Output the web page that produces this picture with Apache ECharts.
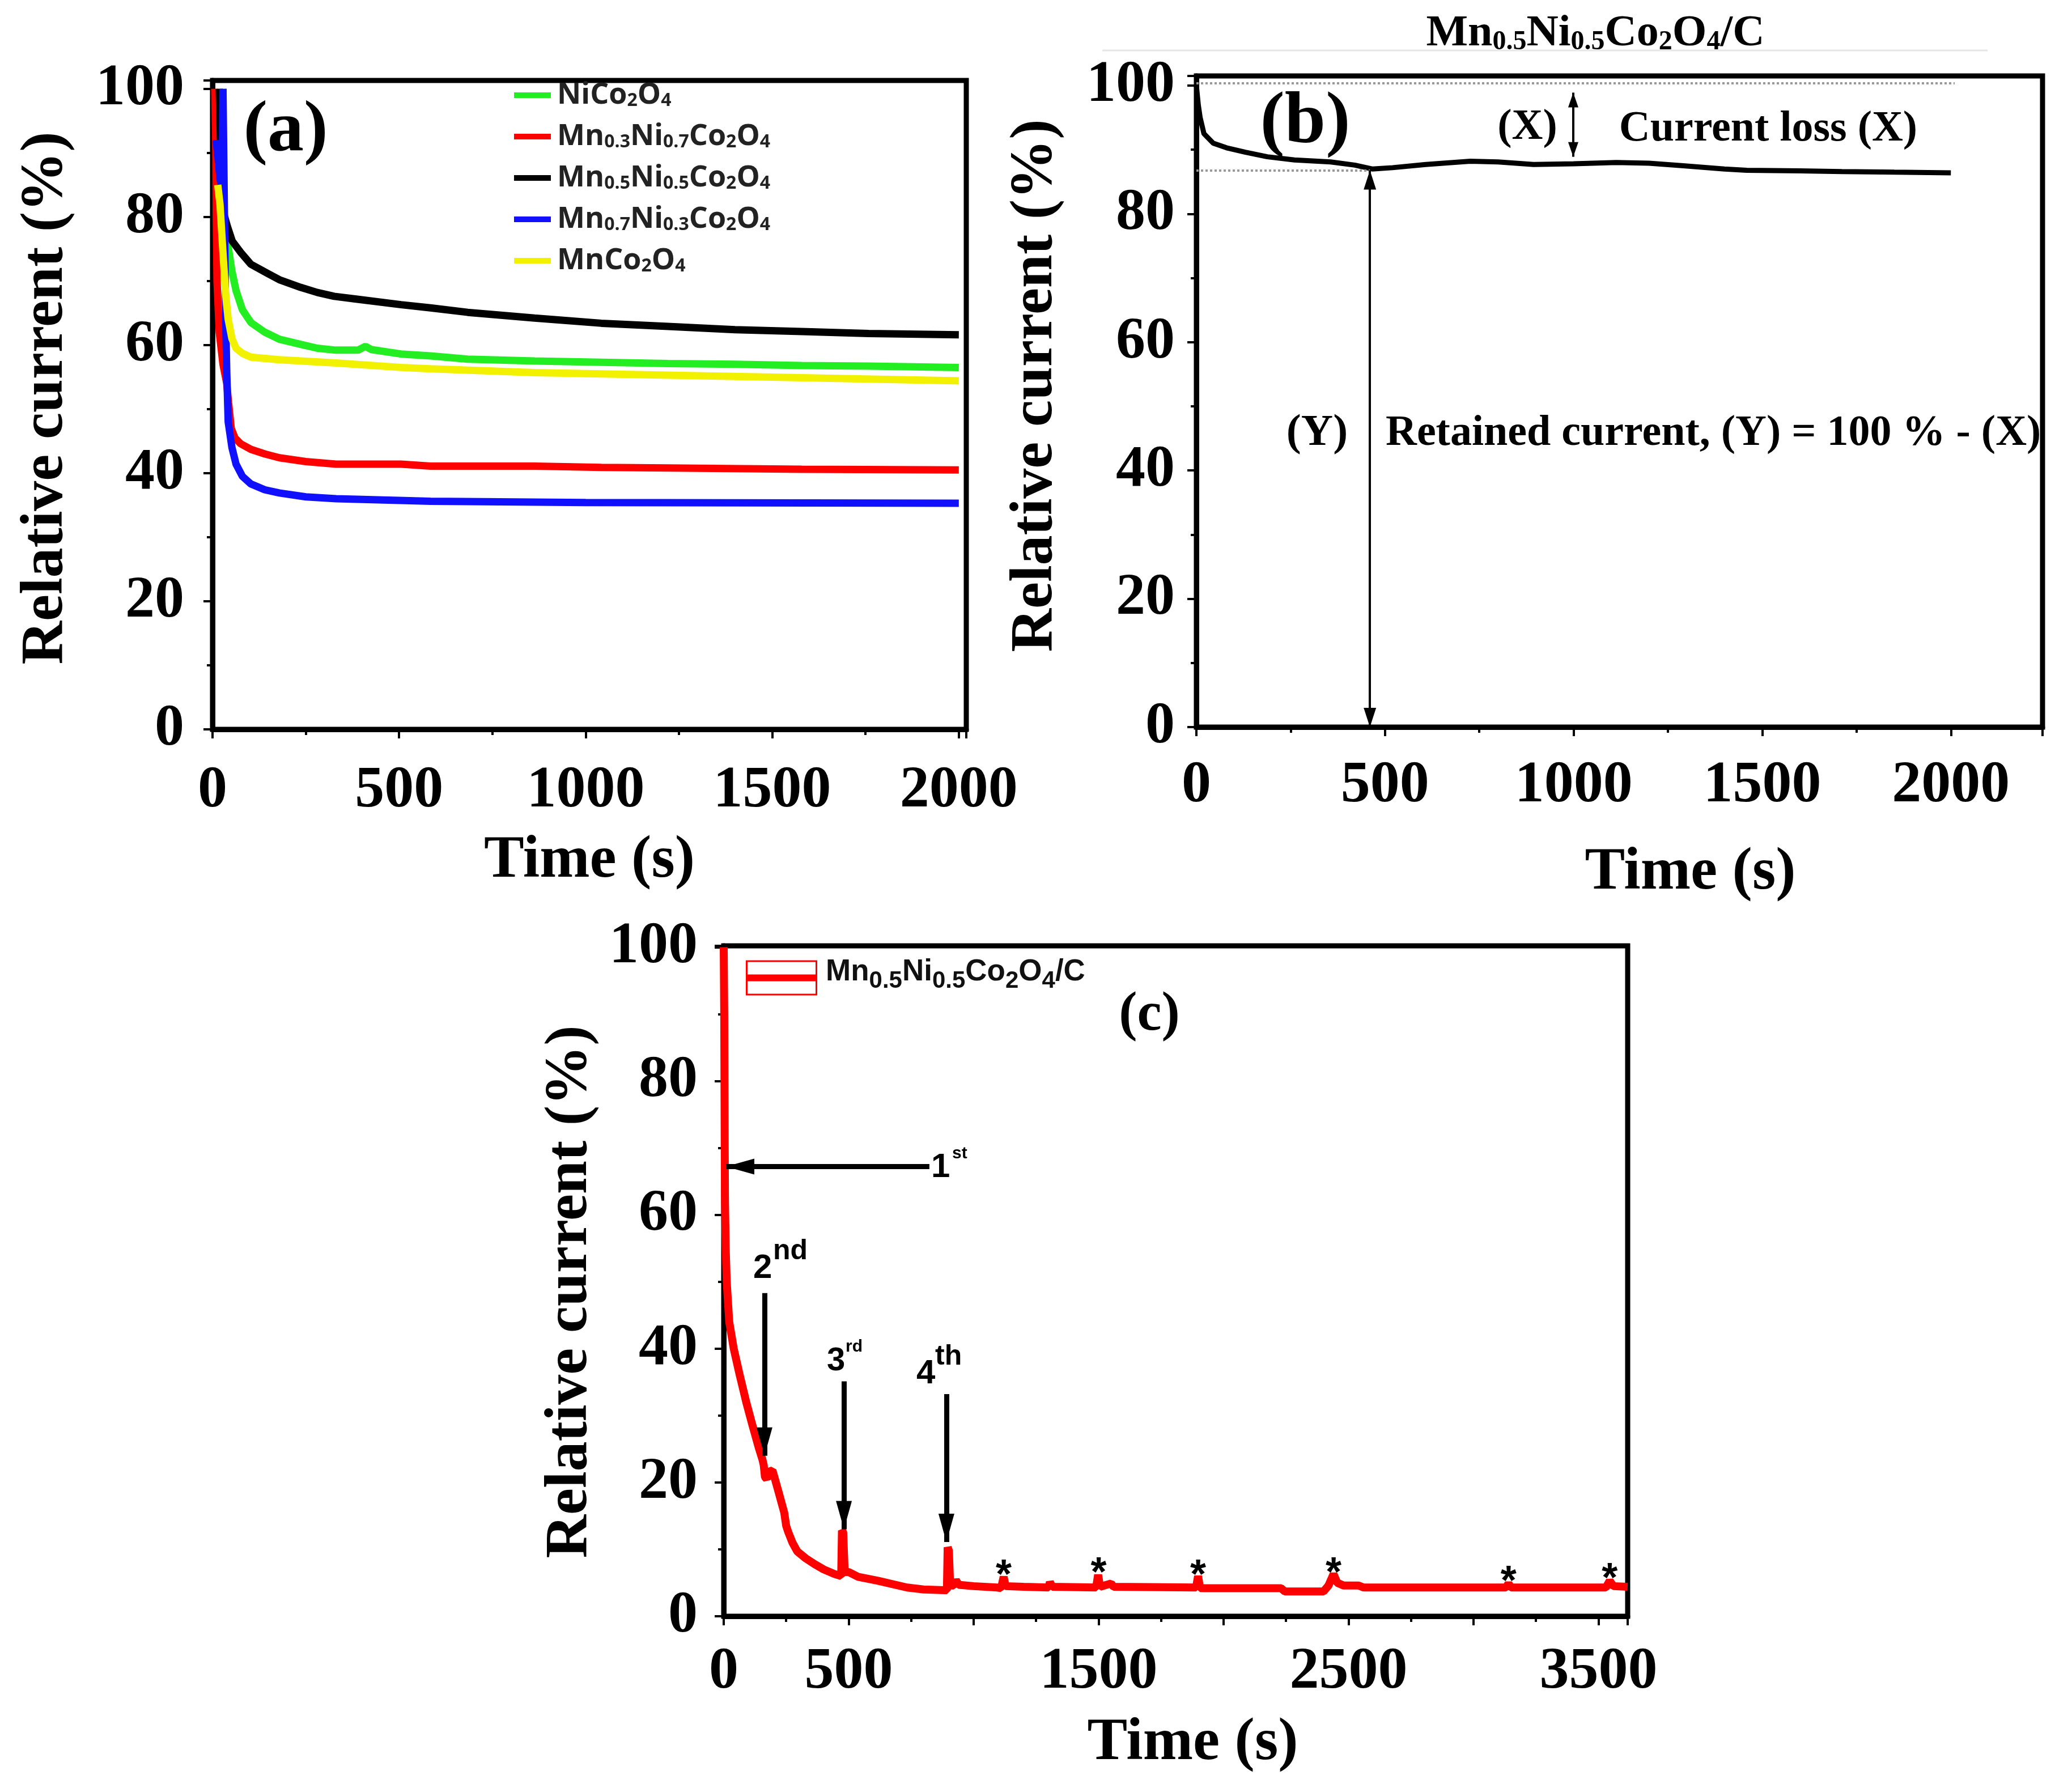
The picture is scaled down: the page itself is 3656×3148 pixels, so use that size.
<!DOCTYPE html>
<html>
<head>
<meta charset="utf-8">
<script src="https://cdn.jsdelivr.net/npm/echarts@6/dist/echarts.min.js"></script>
<style>
html, body { margin:0; padding:0; background:#fff; }
#main { width:3656px; height:3148px; }
</style>
</head>
<body>
<div id="main"></div>
<script>
// (a) relative current vs time, five catalysts  [t (s), %]
var niCo = [[16,85],[22,84],[27,82],[35,78.5],[42,75.3],[52,71.5],[63,68.5],[80,65.5],[103,63.5],[140,62],[179,60.9],[236,60.1],[281,59.5],[330,59.2],[390,59.2],[410,59.8],[425,59.3],[505,58.6],[584,58.3],[684,57.8],[863,57.5],[1042,57.3],[1221,57.1],[1400,57],[1579,56.8],[1758,56.7],[2000,56.5]];
var mn3 = [[6,100],[8,100],[9,90],[10,80],[12,70],[18,62],[28,57],[38,54],[43,51],[50,47],[60,45.5],[75,44.6],[103,43.7],[140,43],[179,42.4],[250,41.8],[331,41.4],[505,41.4],[584,41.1],[863,41.1],[1042,40.9],[1221,40.8],[1579,40.6],[2000,40.5]];
var mn5 = [[18,100],[21,100],[22,90],[25,84],[30,80.5],[40,78.5],[53,76.2],[75,74.5],[103,72.6],[147,71.2],[179,70.2],[236,69],[281,68.2],[326,67.6],[382,67.2],[505,66.3],[584,65.8],[684,65.1],[863,64.2],[1042,63.4],[1221,62.9],[1400,62.4],[1579,62.1],[1758,61.8],[2000,61.6]];
var mn7 = [[10,92],[20,86],[26,84],[28,100],[30,100],[32,80],[35,65],[38,56],[42,48],[52,44],[63,41.4],[80,39.5],[103,38.3],[140,37.4],[179,36.9],[250,36.3],[331,36],[584,35.6],[1000,35.4],[2000,35.3]];
var mnCo = [[14,85],[20,82],[27,75.3],[35,68],[42,64],[52,61],[63,59.5],[80,58.7],[103,58.1],[179,57.7],[331,57.2],[505,56.5],[584,56.3],[863,55.7],[1221,55.3],[1579,54.9],[2000,54.4]];
var namesA = ['NiCo2O4', 'Mn0.3Ni0.7Co2O4', 'Mn0.5Ni0.5Co2O4', 'Mn0.7Ni0.3Co2O4', 'MnCo2O4'];
var colorsA = ['#22ee22', '#ff0000', '#000000', '#1010ff', '#f2f200'];

// (b) Mn0.5Ni0.5Co2O4/C
var bCurve = [[0,100],[5,97],[10,95],[20,92.5],[45,91],[80,90.3],[130,89.6],[188,88.9],[260,88.4],[356,88.1],[420,87.6],[466,87.0],[520,87.2],[608,87.7],[726,88.2],[800,88.1],[894,87.7],[1000,87.8],[1113,88.0],[1200,87.9],[1291,87.5],[1400,87.0],[1459,86.8],[1600,86.7],[1711,86.6],[1850,86.5],[2000,86.4]];
var bInit = 100.4, bRetained = 86.8, bArrowT = 460, bLossT = 999, bLossTop = 98.9, bLossBot = 88.9;

// (c) Mn0.5Ni0.5Co2O4/C with repeated additions
var cCurve = [[0,100],[2,90],[3,80],[4,70],[5,62],[8,55],[12,50],[22,44],[40,40],[63,36.2],[90,32],[116,28.4],[140,25.2],[155,23.4],[160,22.6],[165,20.8],[172,20.5],[180,21.6],[195,21.8],[205,20.5],[220,18.5],[242,15.5],[250,13.5],[258,12.6],[275,11],[294,9.7],[330,8.6],[363,7.8],[400,7.0],[444,6.3],[470,6.0],[473,12.8],[478,12.6],[484,6.6],[500,6.6],[537,5.9],[617,5.3],[733,4.3],[800,4.0],[884,3.9],[893,3.9],[896,10.3],[901,9.8],[906,4.6],[920,4.6],[929,5.4],[940,4.7],[1000,4.5],[1093,4.3],[1110,4.2],[1120,5.9],[1128,4.5],[1200,4.4],[1300,4.3],[1305,5.1],[1315,4.4],[1490,4.3],[1498,6.2],[1506,4.4],[1550,4.9],[1560,4.4],[1890,4.3],[1898,6.0],[1906,4.2],[2230,4.2],[2245,3.7],[2400,3.7],[2420,4.6],[2440,6.3],[2455,5.0],[2480,4.6],[2540,4.6],[2560,4.3],[3130,4.3],[3140,4.9],[3150,4.3],[3530,4.3],[3545,5.3],[3560,4.5],[3617,4.4]];
var cStars = [[1120,7.4],[1500,7.8],[1898,7.4],[2440,7.8],[3140,6.5],[3545,6.9]];
// arrows: [t, from %, to %]
var cArrows = [[163,48.3,24],[481,35.1,13],[891,33.2,11.1]];
var cFirst = [823, 9, 67.2];
var cLabelsX = [0, 500, 1500, 2500, 3500];

var SERIF = 'Liberation Serif';
var SANS = 'Liberation Sans';

function subRich(main, sub, lh, pb, color, fam) {
  return {
    m: { fontFamily: fam, fontWeight: 'bold', fontSize: main, lineHeight: main, verticalAlign: 'bottom', padding: [0,0,pb,0], color: color },
    s: { fontFamily: fam, fontWeight: 'bold', fontSize: sub, lineHeight: lh, verticalAlign: 'bottom', color: color }
  };
}
function chem(name) {
  // "Mn0.3Ni0.7Co2O4" -> rich tokens, digits as subscripts
  return name.replace(/([A-Za-z\/]+)|([0-9.]+)/g, function(all, w, d) {
    return w ? '{m|' + w + '}' : '{s|' + d + '}';
  });
}

function xAxis(gi, max, margin, gap, pad, fmt) {
  return {
    type: 'value', gridIndex: gi, min: 0, max: max, interval: 500,
    axisLine: { show: true, onZero: false, lineStyle: { color: '#000', width: 9 } },
    axisTick: { show: true, length: 16, lineStyle: { color: '#000', width: 4 } },
    minorTick: { show: true, splitNumber: 2, length: 10, lineStyle: { color: '#000', width: 4 } },
    splitLine: { show: false },
    axisLabel: { margin: margin, color: '#000', fontFamily: SERIF, fontWeight: 'bold', fontSize: 104, formatter: fmt },
    name: 'Time (s)', nameLocation: 'middle', nameGap: gap,
    nameTextStyle: { color: '#000', fontFamily: SERIF, fontWeight: 'bold', fontSize: 106, padding: pad }
  };
}
function yAxis(gi, max, margin, gap, pad) {
  return {
    type: 'value', gridIndex: gi, min: 0, max: max, interval: 20,
    axisLine: { show: true, onZero: false, lineStyle: { color: '#000', width: 9 } },
    axisTick: { show: true, length: 16, lineStyle: { color: '#000', width: 4 } },
    minorTick: { show: true, splitNumber: 2, length: 10, lineStyle: { color: '#000', width: 4 } },
    splitLine: { show: false },
    axisLabel: { margin: margin, color: '#000', fontFamily: SERIF, fontWeight: 'bold', fontSize: 104,
      formatter: function(v) { return v % 20 === 0 ? String(v) : ''; } },
    name: 'Relative current (%)', nameLocation: 'middle', nameGap: gap,
    nameTextStyle: { color: '#000', fontFamily: SERIF, fontWeight: 'bold', fontSize: 106, padding: pad }
  };
}
function fmt500(v) { return v % 500 === 0 ? String(v) : ''; }
function fmtC(v) { return cLabelsX.indexOf(v) >= 0 ? String(v) : ''; }

function arrow(t0, v0, t1, v1, w, h, both) {
  var end = { symbol: 'triangle', symbolSize: [w, h], symbolOffset: [0, '50%'] };
  var start = both ? { symbol: 'triangle', symbolSize: [w, h], symbolOffset: [0, '50%'] } : { symbol: 'none' };
  start.coord = [t0, v0];
  end.coord = [t1, v1];
  return [start, end];
}

var gridBase = { show: true, borderColor: '#000', borderWidth: 9, backgroundColor: 'transparent', containLabel: false, outerBoundsMode: 'none' };
var grids = [
  Object.assign({ left: 375, top: 142, width: 1330, height: 1145 }, gridBase),
  Object.assign({ left: 2111, top: 134, width: 1493, height: 1149 }, gridBase),
  Object.assign({ left: 1277, top: 1669, width: 1595, height: 1183 }, gridBase)
];

var seriesA = [niCo, mn3, mn5, mn7, mnCo].map(function(d, i) {
  return {
    name: namesA[i], type: 'line', xAxisIndex: 0, yAxisIndex: 0, data: d,
    showSymbol: false, symbol: 'none', color: colorsA[i],
    lineStyle: { width: 13, color: colorsA[i] }
  };
});

var seriesB = {
  name: 'b-curve', type: 'line', xAxisIndex: 1, yAxisIndex: 1, data: bCurve,
  showSymbol: false, symbol: 'none', color: '#000', lineStyle: { width: 9, color: '#000' },
  markLine: {
    silent: true, animation: false, label: { show: false },
    lineStyle: { color: '#000', width: 4, type: 'solid' },
    data: [
      [{ coord: [0, bInit], symbol: 'none', lineStyle: { color: '#999', width: 4, type: 'dotted' } }, { coord: [2010, bInit], symbol: 'none' }],
      [{ coord: [0, bRetained], symbol: 'none', lineStyle: { color: '#999', width: 4, type: 'dotted' } }, { coord: [bArrowT, bRetained], symbol: 'none' }],
      arrow(bArrowT, 0, bArrowT, bRetained, 22, 34, true),
      arrow(bLossT, bLossBot, bLossT, bLossTop, 18, 26, true)
    ]
  }
};

var seriesC = {
  name: 'Mn0.5Ni0.5Co2O4/C', type: 'line', xAxisIndex: 2, yAxisIndex: 2, data: cCurve,
  showSymbol: false, symbol: 'none', color: '#ff0000', lineStyle: { width: 14, color: '#ff0000' },
  markLine: {
    silent: true, animation: false, label: { show: false },
    lineStyle: { color: '#000', width: 9, type: 'solid' },
    data: [arrow(cFirst[0], cFirst[2], cFirst[1], cFirst[2], 28, 50, false)].concat(
      cArrows.map(function(a) { return arrow(a[0], a[1], a[0], a[2], 28, 50, false); }))
  },
  markPoint: {
    silent: true, animation: false, symbol: 'circle', symbolSize: 1,
    itemStyle: { color: 'rgba(0,0,0,0)' },
    label: { show: true, position: 'inside', offset: [0, 18], formatter: '*', color: '#000', fontFamily: SANS, fontWeight: 'bold', fontSize: 72 },
    data: cStars.map(function(s) { return { coord: s }; })
  }
};

function txt(x, y, text, size, extra) {
  var st = Object.assign({ text: text, fontFamily: SERIF, fontWeight: 'bold', fontSize: size, fill: '#000', align: 'center', verticalAlign: 'middle' }, extra || {});
  return { type: 'text', x: x, y: y, silent: true, style: st };
}

var option = {
  animation: false,
  backgroundColor: '#fff',
  grid: grids,
  xAxis: [
    xAxis(0, 2020, 57, 180, [0, 0, 0, 0], fmt500),
    xAxis(1, 2243, 52, 205, [0, 0, 0, 250], fmt500),
    xAxis(2, 3617, 47, 172, [0, 0, 0, 60], fmtC)
  ],
  yAxis: [
    yAxis(0, 101.3, 50, 240, [0, 0, 0, 24]),
    yAxis(1, 101.5, 38, 230, [0, 0, 0, 56]),
    yAxis(2, 100.2, 46, 217, [0, 38, 0, 0])
  ],
  legend: [
    {
      data: namesA, orient: 'vertical', left: 902, top: 137, itemGap: 21,
      itemWidth: 65, itemHeight: 10, icon: 'rect', selectedMode: false,
      formatter: chem,
      textStyle: { padding: [0, 0, 0, 6], rich: subRich(52, 32, 12, 0, '#222', 'Open Sans') }
    },
    {
      data: ['Mn0.5Ni0.5Co2O4/C'], orient: 'vertical', left: 1311, top: 1684,
      itemWidth: 126, itemHeight: 62, selectedMode: false,
      icon: 'path://M0,0H126V62H0Z M3,3V59H123V3Z M0,25H126V37H0Z',
      formatter: chem,
      textStyle: { padding: [0, 0, 0, 10], rich: subRich(53, 42, 20, 10, '#111', SANS) }
    }
  ],
  graphic: [
    txt(504, 232, '(a)', 128),
    txt(2303, 217, '(b)', 130),
    txt(2028, 1792, '(c)', 97),
    { type: 'line', silent: true, shape: { x1: 1945, y1: 89, x2: 3507, y2: 89 }, style: { stroke: '#e6e6e6', lineWidth: 3 } },
    txt(2815, 60, chem('Mn0.5Ni0.5Co2O4/C'), 78, { rich: subRich(78, 48, 20, 0, '#000', SERIF) }),
    txt(2695, 225, '(X)', 76),
    txt(3120, 228, 'Current loss (X)', 76),
    txt(2324, 765, '(Y)', 78),
    txt(2445, 765, 'Retained current, (Y) = 100 % - (X)', 76, { align: 'left' }),
    txt(1643, 2060, '1', 60, { fontFamily: SANS, align: 'left' }),
    txt(1680, 2036, 'st', 30, { fontFamily: SANS, align: 'left' }),
    txt(1329, 2238, '2', 60, { fontFamily: SANS, align: 'left' }),
    txt(1364, 2208, 'nd', 50, { fontFamily: SANS, align: 'left' }),
    txt(1459, 2402, '3', 58, { fontFamily: SANS, align: 'left' }),
    txt(1492, 2377, 'rd', 30, { fontFamily: SANS, align: 'left' }),
    txt(1617, 2424, '4', 60, { fontFamily: SANS, align: 'left' }),
    txt(1650, 2394, 'th', 50, { fontFamily: SANS, align: 'left' })
  ],
  series: seriesA.concat([seriesB, seriesC])
};

var chart = echarts.init(document.getElementById('main'), null, { renderer: 'canvas' });
chart.setOption(option);
</script>
</body>
</html>
